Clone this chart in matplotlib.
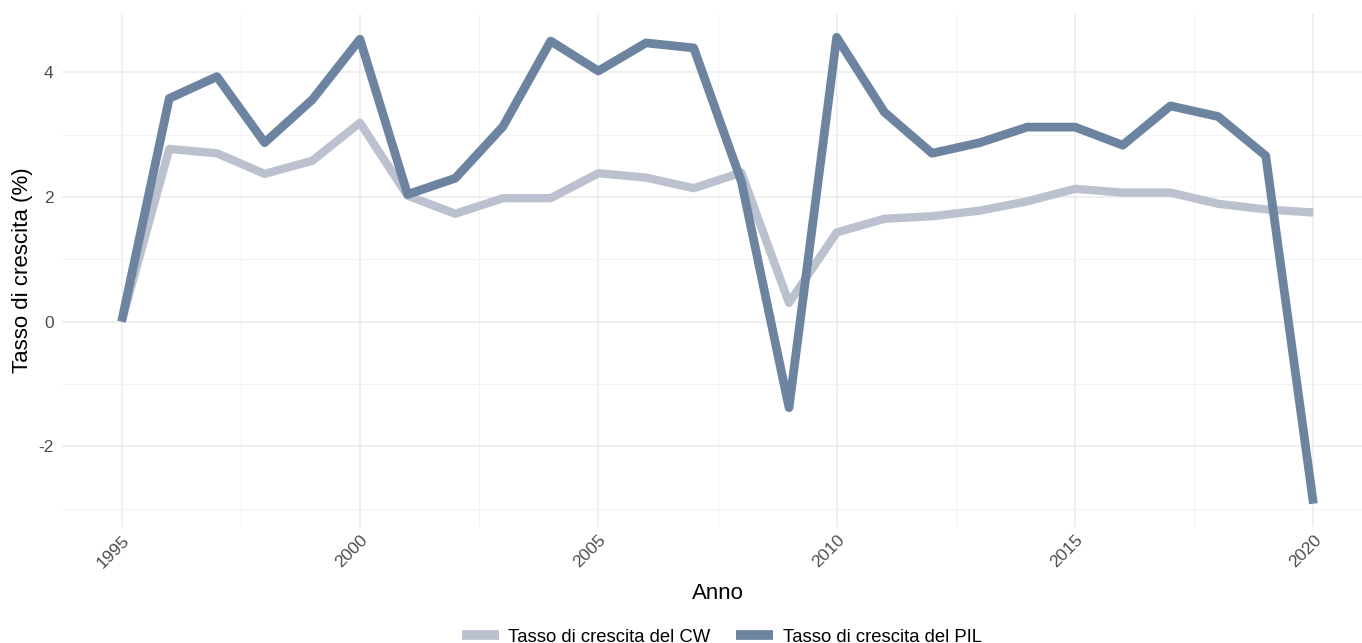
import matplotlib.pyplot as plt
from matplotlib.lines import Line2D
from matplotlib.ticker import MultipleLocator

# Dati
anni = list(range(1995, 2021))
crescita_cw = [0.0, 2.77, 2.70, 2.37, 2.58, 3.19, 2.02, 1.73, 1.98, 1.98,
               2.38, 2.31, 2.14, 2.39, 0.30, 1.43, 1.65, 1.69, 1.78, 1.93,
               2.13, 2.07, 2.07, 1.89, 1.80, 1.75]
crescita_pil = [0.0, 3.58, 3.93, 2.87, 3.56, 4.53, 2.04, 2.30, 3.13, 4.50,
                4.02, 4.47, 4.39, 2.25, -1.38, 4.56, 3.36, 2.70, 2.87, 3.12,
                3.12, 2.83, 3.46, 3.29, 2.66, -2.92]
etichette = ['Tasso di crescita del CW', 'Tasso di crescita del PIL']
colori = ['#bcc1cf', '#6c84a0']

plt.rcParams['font.family'] = ['Liberation Sans', 'DejaVu Sans']
plt.rcParams['axes.unicode_minus'] = False

fig = plt.figure(figsize=(13.62, 6.43), dpi=100)
ax = fig.add_axes([62 / 1362, 116 / 643, 1311 / 1362, 513 / 643])

ax.plot(anni, crescita_cw, color=colori[0], linewidth=6, solid_joinstyle='round',
        solid_capstyle='butt', zorder=3)
ax.plot(anni, crescita_pil, color=colori[1], linewidth=6.3, solid_joinstyle='round',
        solid_capstyle='butt', zorder=4)

# scale con espansione stile ggplot
ymin, ymax = min(crescita_pil), max(crescita_pil)
pad = (ymax - ymin) * 0.05
ax.set_ylim(ymin - pad, ymax + pad)
ax.set_xlim(anni[0] - 1.25, anni[-1] + 1.25)

ax.xaxis.set_major_locator(MultipleLocator(5))
ax.xaxis.set_minor_locator(MultipleLocator(2.5))
ax.yaxis.set_major_locator(MultipleLocator(2))
ax.yaxis.set_minor_locator(MultipleLocator(1))

ax.grid(which='major', color='#ebebeb', linewidth=1.1)
ax.grid(which='minor', color='#f2f2f2', linewidth=0.7)
ax.set_axisbelow(True)
for s in ax.spines.values():
    s.set_visible(False)
ax.tick_params(which='both', length=0)
ax.tick_params(axis='y', labelsize=12.5, labelcolor='#4d4d4d', pad=6)
ax.tick_params(axis='x', labelsize=12.5, labelcolor='#4d4d4d', pad=4)
plt.setp(ax.get_xticklabels(), rotation=45, ha='right', rotation_mode='anchor')

ax.set_xlabel('Anno', fontsize=16, labelpad=9)
ax.set_ylabel('Tasso di crescita (%)', fontsize=16, labelpad=4)

handles = [Line2D([0], [0], color=c, linewidth=7, solid_capstyle='butt') for c in colori]
fig.legend(handles, etichette, loc='lower center', bbox_to_anchor=(0.53, -0.03),
           ncol=2, frameon=False, fontsize=13.3, handlelength=2.0, columnspacing=1.4,
           handletextpad=0.5)

fig.savefig('out.png', dpi=100)
